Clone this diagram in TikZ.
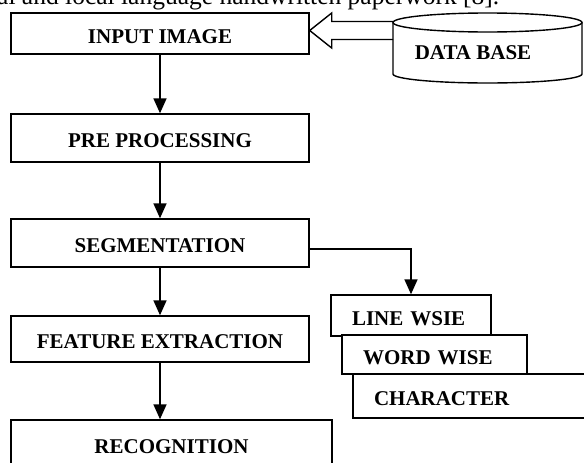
\documentclass[tikz,border=0pt]{standalone}
\usepackage{fontspec}
\setmainfont{Liberation Serif}
\usetikzlibrary{arrows.meta,calc}

\tikzset{
  stagebox/.style={draw, line width=1.4pt, fill=white, inner sep=0pt,
    minimum width=298pt, text height=19pt, text depth=0pt,
    font=\bfseries\fontsize{21}{25}\selectfont},
  subbox/.style={draw, line width=1.4pt, fill=white, inner xsep=21pt,
    inner ysep=0pt, align=left, text height=19pt, text depth=0pt,
    font=\bfseries\fontsize{21}{25}\selectfont},
  flow/.style={line width=1.6pt, -{Triangle[length=15pt,width=13pt]}},
}

\begin{document}
\begin{tikzpicture}[x=1pt,y=-1pt]
\fill[white] (0,0) rectangle (584,463);
\useasboundingbox (0,0) rectangle (584,463);

% running text of the page above the figure
\node[anchor=base west, inner sep=0pt, font=\fontsize{25.5}{30}\selectfont] (intro) at (-3,5) {al and local language handwritten paperwork [8].};

% main stages
\node[stagebox, minimum height=41pt] (input) at (160,33.5) {INPUT IMAGE};
\node[stagebox, minimum height=48pt] (pre) at (160,138) {PRE PROCESSING};
\node[stagebox, minimum height=48pt] (seg) at (160,243) {SEGMENTATION};
\node[stagebox, minimum height=46pt] (feat) at (160,339) {FEATURE EXTRACTION};
\node[stagebox, minimum width=321pt, minimum height=48pt] (recog) at (171.5,444) {RECOGNITION};

\draw[flow] (input.south) -- (pre.north);
\draw[flow] (pre.south) -- (seg.north);
\draw[flow] (seg.south) -- (feat.north);
\draw[flow] (feat.south) -- (feat.south |- recog.north);

% data base
\draw[line width=1.4pt, fill=white] (393,22.5) -- (393,74)
  arc[start angle=180, end angle=0, x radius=94.5, y radius=9] -- (582,22.5);
\draw[line width=1.4pt] (487.5,22.5) ellipse [x radius=94.5, y radius=9.5];
\node[font=\bfseries\fontsize{21}{25}\selectfont, text height=19pt, text depth=0pt, inner sep=0pt] (db) at (473,50) {DATA BASE};
\coordinate (dbin) at (393,30.5);

% hollow arrow from data base
\draw[line width=1.4pt, line join=miter] ($(dbin)+(0,-9)$)
  -- ($(input.east |- dbin)+(22,-9)$) -- ($(input.east |- dbin)+(22,-17.5)$)
  -- (input.east |- dbin)
  -- ($(input.east |- dbin)+(22,17.5)$) -- ($(input.east |- dbin)+(22,9)$)
  -- ($(dbin)+(0,9)$);

% segmentation levels
\node[subbox, text width=118pt, minimum height=41pt] (line) at (411,315.5) {LINE WSIE};
\node[subbox, text width=143pt, minimum height=39pt] (word) at (434.5,354.5) {WORD WISE};
\node[subbox, text width=205pt, minimum height=44pt] (char) at (476.5,396) {CHARACTER};

\draw[flow] ($(seg.east)+(0,6)$) -| (line.north);
\end{tikzpicture}
\end{document}
